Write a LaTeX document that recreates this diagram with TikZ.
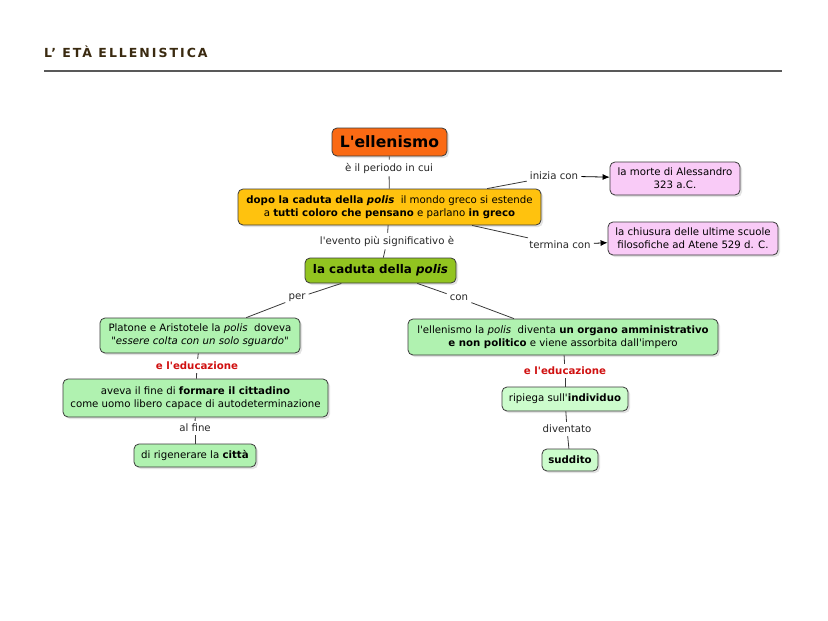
\documentclass[tikz,border=0pt]{standalone}
\usepackage{fontspec}
\setmainfont{DejaVu Sans}
\newfontfamily\vfont{DejaVu Sans}
\newfontfamily\titlefont[LetterSpace=16]{DejaVu Sans}
\usetikzlibrary{shadows,arrows.meta}
\definecolor{cOrange}{HTML}{FA6A14}
\definecolor{cYellow}{HTML}{FFC20E}
\definecolor{cPink}{HTML}{F9CBF7}
\definecolor{cGreen}{HTML}{92C420}
\definecolor{cLight}{HTML}{B0F2B0}
\definecolor{cPale}{HTML}{CCFCCC}
\definecolor{cRed}{HTML}{D01010}
\definecolor{cTitle}{HTML}{3A2A10}
\definecolor{cEdge}{HTML}{3A3A3A}
\tikzset{
  box/.style={draw=cEdge, line width=0.8pt, rounded corners=5pt, align=center,
    inner sep=2pt, font=\vfont\fontsize{10.2}{13}\selectfont,
    drop shadow={opacity=0.22, shadow xshift=2pt, shadow yshift=-2pt}},
  lab/.style={inner sep=3pt, font=\vfont\fontsize{10.2}{12}\selectfont, text=black!85},
  redlab/.style={inner sep=3pt, font=\vfont\fontsize{10.2}{12}\selectfont\bfseries, text=cRed},
  link/.style={draw=cEdge, line width=0.8pt},
  arr/.style={draw=black, line width=0.8pt, -{Latex[length=7pt,width=6pt]}}
}
\begin{document}
\begin{tikzpicture}[x=1pt,y=1pt]
\useasboundingbox[fill=white] (0,0) rectangle (828,-621);
% title
\node[anchor=west, inner sep=0pt, text=cTitle, font=\titlefont\fontsize{12.5}{14}\selectfont\bfseries] (title) at (44,-52) {L’ ETÀ ELLENISTICA};
\coordinate (rl) at (44,-71);
\coordinate (rr) at (782,-71);
\draw[line width=2.6pt, draw=black!65] (rl) -- (rr);

% nodes
\node[box, fill=cOrange, minimum width=115pt, minimum height=28pt, font=\vfont\fontsize{15.6}{18}\selectfont\bfseries] (ell) at (389.5,-142) {L'ellenismo};
\node[box, fill=cYellow, minimum width=303pt, minimum height=36pt] (yel) at (389.5,-207)
  {\textbf{dopo la caduta della \textit{polis}}\ \ il mondo greco si estende\\ a \textbf{tutti coloro che pensano} e parlano \textbf{in greco}};
\node[box, fill=cPink, minimum width=130pt, minimum height=33pt] (pk1) at (675,-178.5) {la morte di Alessandro\\ 323 a.C.};
\node[box, fill=cPink, minimum width=170pt, minimum height=33pt] (pk2) at (693,-238.5) {la chiusura delle ultime scuole\\ filosofiche ad Atene 529 d. C.};
\node[box, fill=cGreen, minimum width=151pt, minimum height=25pt, font=\vfont\fontsize{11.9}{14}\selectfont\bfseries] (cad) at (380.5,-270.5) {la caduta della \textit{polis}};
\node[box, fill=cLight, minimum width=200pt, minimum height=35pt] (lg1) at (200,-335.5)
  {Platone e Aristotele la \textit{polis}\ \ doveva\\ \textit{"essere colta con un solo sguardo"}};
\node[box, fill=cLight, minimum width=265pt, minimum height=38pt] (lg2) at (195.5,-398)
  {aveva il fine di \textbf{formare il cittadino}\\ come uomo libero capace di autodeterminazione};
\node[box, fill=cLight, minimum width=122pt, minimum height=23pt] (lg3) at (195,-455.5) {di rigenerare la \textbf{città}};
\node[box, fill=cLight, minimum width=310pt, minimum height=36pt] (rg1) at (563,-337)
  {l'ellenismo la \textit{polis}\ \ diventa \textbf{un organo amministrativo}\\ \textbf{e non politico} e viene assorbita dall'impero};
\node[box, fill=cPale, minimum width=126pt, minimum height=24pt] (rg2) at (565,-399) {ripiega sull'\textbf{individuo}};
\node[box, fill=cPale, minimum width=56pt, minimum height=22pt] (rg3) at (570,-460) {\textbf{suddito}};

% labels
\node[lab] (l1) at (389,-168) {è il periodo in cui};
\node[lab] (l2) at (554,-176) {inizia con};
\node[lab] (l3) at (560,-245) {termina con};
\node[lab] (l4) at (387,-241) {l'evento più significativo è};
\node[lab] (l5) at (297,-298) {per};
\node[lab] (l6) at (459,-298) {con};
\node[redlab] (l7) at (197,-366) {e l'educazione};
\node[lab] (l8) at (195,-428) {al fine};
\node[redlab] (l9) at (565,-371) {e l'educazione};
\node[lab] (l10) at (567,-429) {diventato};

% connectors
\draw[link] (ell) -- (l1);
\draw[link] (l1) -- (yel);
\draw[link] (yel) -- (l2);
\draw[arr] (l2) -- (pk1);
\draw[link] (yel) -- (l3);
\draw[arr] (l3) -- (pk2);
\draw[link] (yel) -- (l4);
\draw[link] (l4) -- (cad);
\draw[link] (cad) -- (l5);
\draw[link] (l5) -- (lg1);
\draw[link] (cad) -- (l6);
\draw[link] (l6) -- (rg1);
\draw[link] (lg1) -- (l7);
\draw[link] (l7) -- (lg2);
\draw[link] (lg2) -- (l8);
\draw[link] (l8) -- (lg3);
\draw[link] (rg1) -- (l9);
\draw[link] (l9) -- (rg2);
\draw[link] (rg2) -- (l10);
\draw[link] (l10) -- (rg3);
\end{tikzpicture}
\end{document}
